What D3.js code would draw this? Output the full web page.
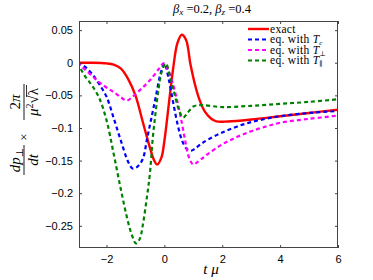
<!DOCTYPE html>
<html>
<head>
<meta charset="utf-8">
<script src="https://cdn.jsdelivr.net/npm/d3@7"></script>
<style>
  body { margin: 0; background: #fff; }
  svg { display: block; }
  .tick text { font-family: "Liberation Sans", Arial, sans-serif; font-size: 11px; }
  .serif { font-family: "Liberation Serif", "DejaVu Serif", serif; }
</style>
</head>
<body>
<div id="chart"></div>
<script>
// Data.
var exactT = [-3, -2.5, -2, -1.75, -1.5, -1.25, -1, -0.75, -0.5, -0.35, -0.25, -0.1, 0, 0.15, 0.3, 0.45, 0.6, 0.75, 0.9, 1.05, 1.2, 1.4, 1.6, 1.8, 2.2, 3, 4, 5, 6];
var exactV = [0, 0, -0.001, -0.003, -0.009, -0.025, -0.05, -0.09, -0.13, -0.15, -0.156, -0.145, -0.12, -0.065, -0.01, 0.03, 0.043, 0.035, -0.002, -0.032, -0.055, -0.075, -0.085, -0.09, -0.09, -0.087, -0.082, -0.077, -0.072];

var tcT = [-3, -2.75, -2.5, -2.25, -2, -1.75, -1.5, -1.25, -1.1, -0.95, -0.75, -0.6, -0.45, -0.3, -0.15, 0, 0.15, 0.3, 0.45, 0.6, 0.75, 0.9, 1.05, 1.25, 1.5, 2, 2.5, 3, 3.5, 4, 5, 6];
var tcV = [0, -0.006, -0.017, -0.033, -0.052, -0.085, -0.12, -0.152, -0.162, -0.16, -0.148, -0.117, -0.085, -0.053, -0.02, -0.001, -0.025, -0.06, -0.093, -0.118, -0.131, -0.135, -0.132, -0.125, -0.118, -0.107, -0.098, -0.091, -0.086, -0.082, -0.077, -0.074];

var tperpT = [-3, -2.5, -2.25, -2, -1.75, -1.5, -1.3, -1.1, -0.8, -0.5, -0.2, -0.02, 0.1, 0.25, 0.4, 0.55, 0.7, 0.85, 1.0, 1.15, 1.3, 1.5, 2, 2.5, 3, 3.5, 4, 5, 6];
var tperpV = [0, -0.02, -0.03, -0.038, -0.045, -0.053, -0.058, -0.052, -0.04, -0.027, -0.01, -0.001, -0.008, -0.025, -0.05, -0.08, -0.115, -0.145, -0.156, -0.152, -0.147, -0.14, -0.125, -0.114, -0.105, -0.098, -0.092, -0.086, -0.081];

var tparT = [-3, -2.75, -2.5, -2.25, -2, -1.75, -1.5, -1.25, -1.1, -0.98, -0.85, -0.75, -0.6, -0.5, -0.4, -0.3, -0.2, -0.1, 0.05, 0.2, 0.35, 0.5, 0.65, 0.8, 1.0, 1.3, 2, 3, 4, 5, 6];
var tparV = [0, -0.02, -0.035, -0.054, -0.088, -0.14, -0.195, -0.245, -0.267, -0.277, -0.27, -0.25, -0.205, -0.17, -0.115, -0.075, -0.04, -0.015, -0.001, -0.022, -0.048, -0.072, -0.084, -0.077, -0.067, -0.065, -0.068, -0.066, -0.063, -0.06, -0.056];

var xTicks = [-2, 0, 2, 4, 6];
var yTicks = [0.05, 0, -0.05, -0.1, -0.15, -0.2, -0.25];

var series = [
  {name: "exact", t: exactT, v: exactV, color: "#ff0000", dash: null, sub: null},
  {name: "eq. with ", t: tcT, v: tcV, color: "#0000ff", dash: "4,3", sub: "c"},
  {name: "eq. with ", t: tperpT, v: tperpV, color: "#ff00ff", dash: "4,3", sub: "\u22a5"},
  {name: "eq. with ", t: tparT, v: tparV, color: "#008000", dash: "4,3", sub: "\u2225"}
];

// Dimensions.
var W = 373, H = 280;
var plot = {left: 79, right: 338, top: 21, bottom: 248};

var svg = d3.select("#chart").append("svg")
    .attr("width", W)
    .attr("height", H);

// Scales.
var x = d3.scaleLinear().domain([-2.95, 6]).range([plot.left, plot.right]);
var y = d3.scaleLinear().domain([-0.284, 0.064]).range([plot.bottom, plot.top]);

// Clip.
svg.append("clipPath").attr("id", "clip")
  .append("rect")
    .attr("x", plot.left).attr("y", plot.top)
    .attr("width", plot.right - plot.left).attr("height", plot.bottom - plot.top);

// Lines.
var line = d3.line()
    .x(function(d) { return x(d[0]); })
    .y(function(d) { return y(d[1]); })
    .curve(d3.curveCatmullRom.alpha(0.5));

series.forEach(function(s) {
  svg.append("path")
      .datum(d3.zip(s.t, s.v))
      .attr("clip-path", "url(#clip)")
      .attr("fill", "none")
      .attr("stroke", s.color)
      .attr("stroke-width", s.dash ? 2.2 : 2.4)
      .attr("stroke-dasharray", s.dash)
      .attr("d", line);
});

// Axes.
function fmt(d) { return d === 0 ? "0" : d3.format("")(d).replace("-", "\u2212"); }

var axisColor = "#444";
var gx = svg.append("g")
    .attr("transform", "translate(0," + plot.bottom + ")")
    .call(d3.axisBottom(x).tickValues(xTicks).tickSize(-3).tickPadding(7).tickFormat(fmt));
var gxTop = svg.append("g")
    .attr("transform", "translate(0," + plot.top + ")")
    .call(d3.axisTop(x).tickValues(xTicks).tickSize(-3).tickFormat(""));
var gy = svg.append("g")
    .attr("transform", "translate(" + plot.left + ",0)")
    .call(d3.axisLeft(y).tickValues(yTicks).tickSize(-3).tickPadding(6).tickFormat(fmt));
var gyRight = svg.append("g")
    .attr("transform", "translate(" + plot.right + ",0)")
    .call(d3.axisRight(y).tickValues(yTicks).tickSize(-3).tickFormat(""));

[gx, gxTop, gy, gyRight].forEach(function(g) {
  g.select(".domain").remove();
  g.selectAll(".tick line").attr("stroke", axisColor);
  g.selectAll(".tick text").attr("fill", "#000");
});

svg.append("rect")
    .attr("x", plot.left + 0.5).attr("y", plot.top + 0.5)
    .attr("width", plot.right - plot.left - 1).attr("height", plot.bottom - plot.top - 1)
    .attr("fill", "none")
    .attr("stroke", axisColor);

// Title.
var title = svg.append("text").attr("class", "serif")
    .attr("x", 212).attr("y", 13)
    .attr("text-anchor", "middle")
    .attr("font-size", 12.5);
title.append("tspan").attr("font-style", "italic").text("\u03b2");
title.append("tspan").attr("font-style", "italic").attr("font-size", 9).attr("dy", 2).text("x");
title.append("tspan").attr("dy", -2).text(" =0.2, ");
title.append("tspan").attr("font-style", "italic").text("\u03b2");
title.append("tspan").attr("font-style", "italic").attr("font-size", 9).attr("dy", 2).text("z");
title.append("tspan").attr("dy", -2).text(" =0.4");

// X label.
svg.append("text").attr("class", "serif")
    .attr("x", 211).attr("y", 274)
    .attr("text-anchor", "middle")
    .attr("font-size", 15)
    .attr("font-style", "italic")
    .text("t \u03bc");

// Y label.
var yl = svg.append("g").attr("class", "serif")
    .attr("transform", "translate(24,131) rotate(-90)");

// first fraction: dp_perp / dt
var f1 = -29;
var n1 = yl.append("text").attr("x", f1).attr("y", -4).attr("text-anchor", "middle").attr("font-size", 15);
n1.append("tspan").attr("font-style", "italic").text("dp");
n1.append("tspan").attr("font-size", 10).attr("dy", 3).text("\u22a5");
yl.append("line").attr("x1", f1 - 15).attr("x2", f1 + 15).attr("y1", 0).attr("y2", 0)
    .attr("stroke", "#000").attr("stroke-width", 0.9);
yl.append("text").attr("x", f1).attr("y", 14).attr("text-anchor", "middle")
    .attr("font-size", 15).attr("font-style", "italic").text("dt");

yl.append("text").attr("x", -6).attr("y", 4).attr("text-anchor", "middle")
    .attr("font-size", 13).text("\u00d7");

// second fraction: 2 pi / (mu^2 sqrt(lambda))
var f2 = 29;
var n2 = yl.append("text").attr("x", f2).attr("y", -4).attr("text-anchor", "middle").attr("font-size", 15);
n2.append("tspan").text("2");
n2.append("tspan").attr("font-style", "italic").text("\u03c0");
yl.append("line").attr("x1", f2 - 18).attr("x2", f2 + 18).attr("y1", 0).attr("y2", 0)
    .attr("stroke", "#000").attr("stroke-width", 0.9);
var d2 = yl.append("text").attr("x", f2).attr("y", 14).attr("text-anchor", "middle").attr("font-size", 15);
d2.append("tspan").attr("font-style", "italic").text("\u03bc");
d2.append("tspan").attr("font-size", 10).attr("dy", -5).text("2");
d2.append("tspan").attr("dy", 5).text("\u221a\u03bb");
yl.append("line").attr("x1", f2 + 5).attr("x2", f2 + 17).attr("y1", 2.5).attr("y2", 2.5)
    .attr("stroke", "#000").attr("stroke-width", 0.8);

// Legend.
var legY = [29, 39.5, 50, 60.5];
series.forEach(function(s, i) {
  var g = svg.append("g").attr("transform", "translate(0," + legY[i] + ")");
  g.append("line")
      .attr("x1", 248).attr("x2", 269).attr("y1", 0).attr("y2", 0)
      .attr("stroke", s.color)
      .attr("stroke-width", s.dash ? 2.2 : 2.4)
      .attr("stroke-dasharray", s.dash);
  var t = g.append("text").attr("class", "serif")
      .attr("x", 270).attr("y", 3.5)
      .attr("font-size", 11.5)
      .attr("letter-spacing", 0.3);
  t.append("tspan").text(s.name);
  if (s.sub) {
    t.append("tspan").attr("font-style", "italic").text("T");
    t.append("tspan").attr("font-size", 7).attr("dy", 2)
        .attr("font-style", s.sub === "c" ? "italic" : null).text(s.sub);
  }
});
</script>
</body>
</html>
